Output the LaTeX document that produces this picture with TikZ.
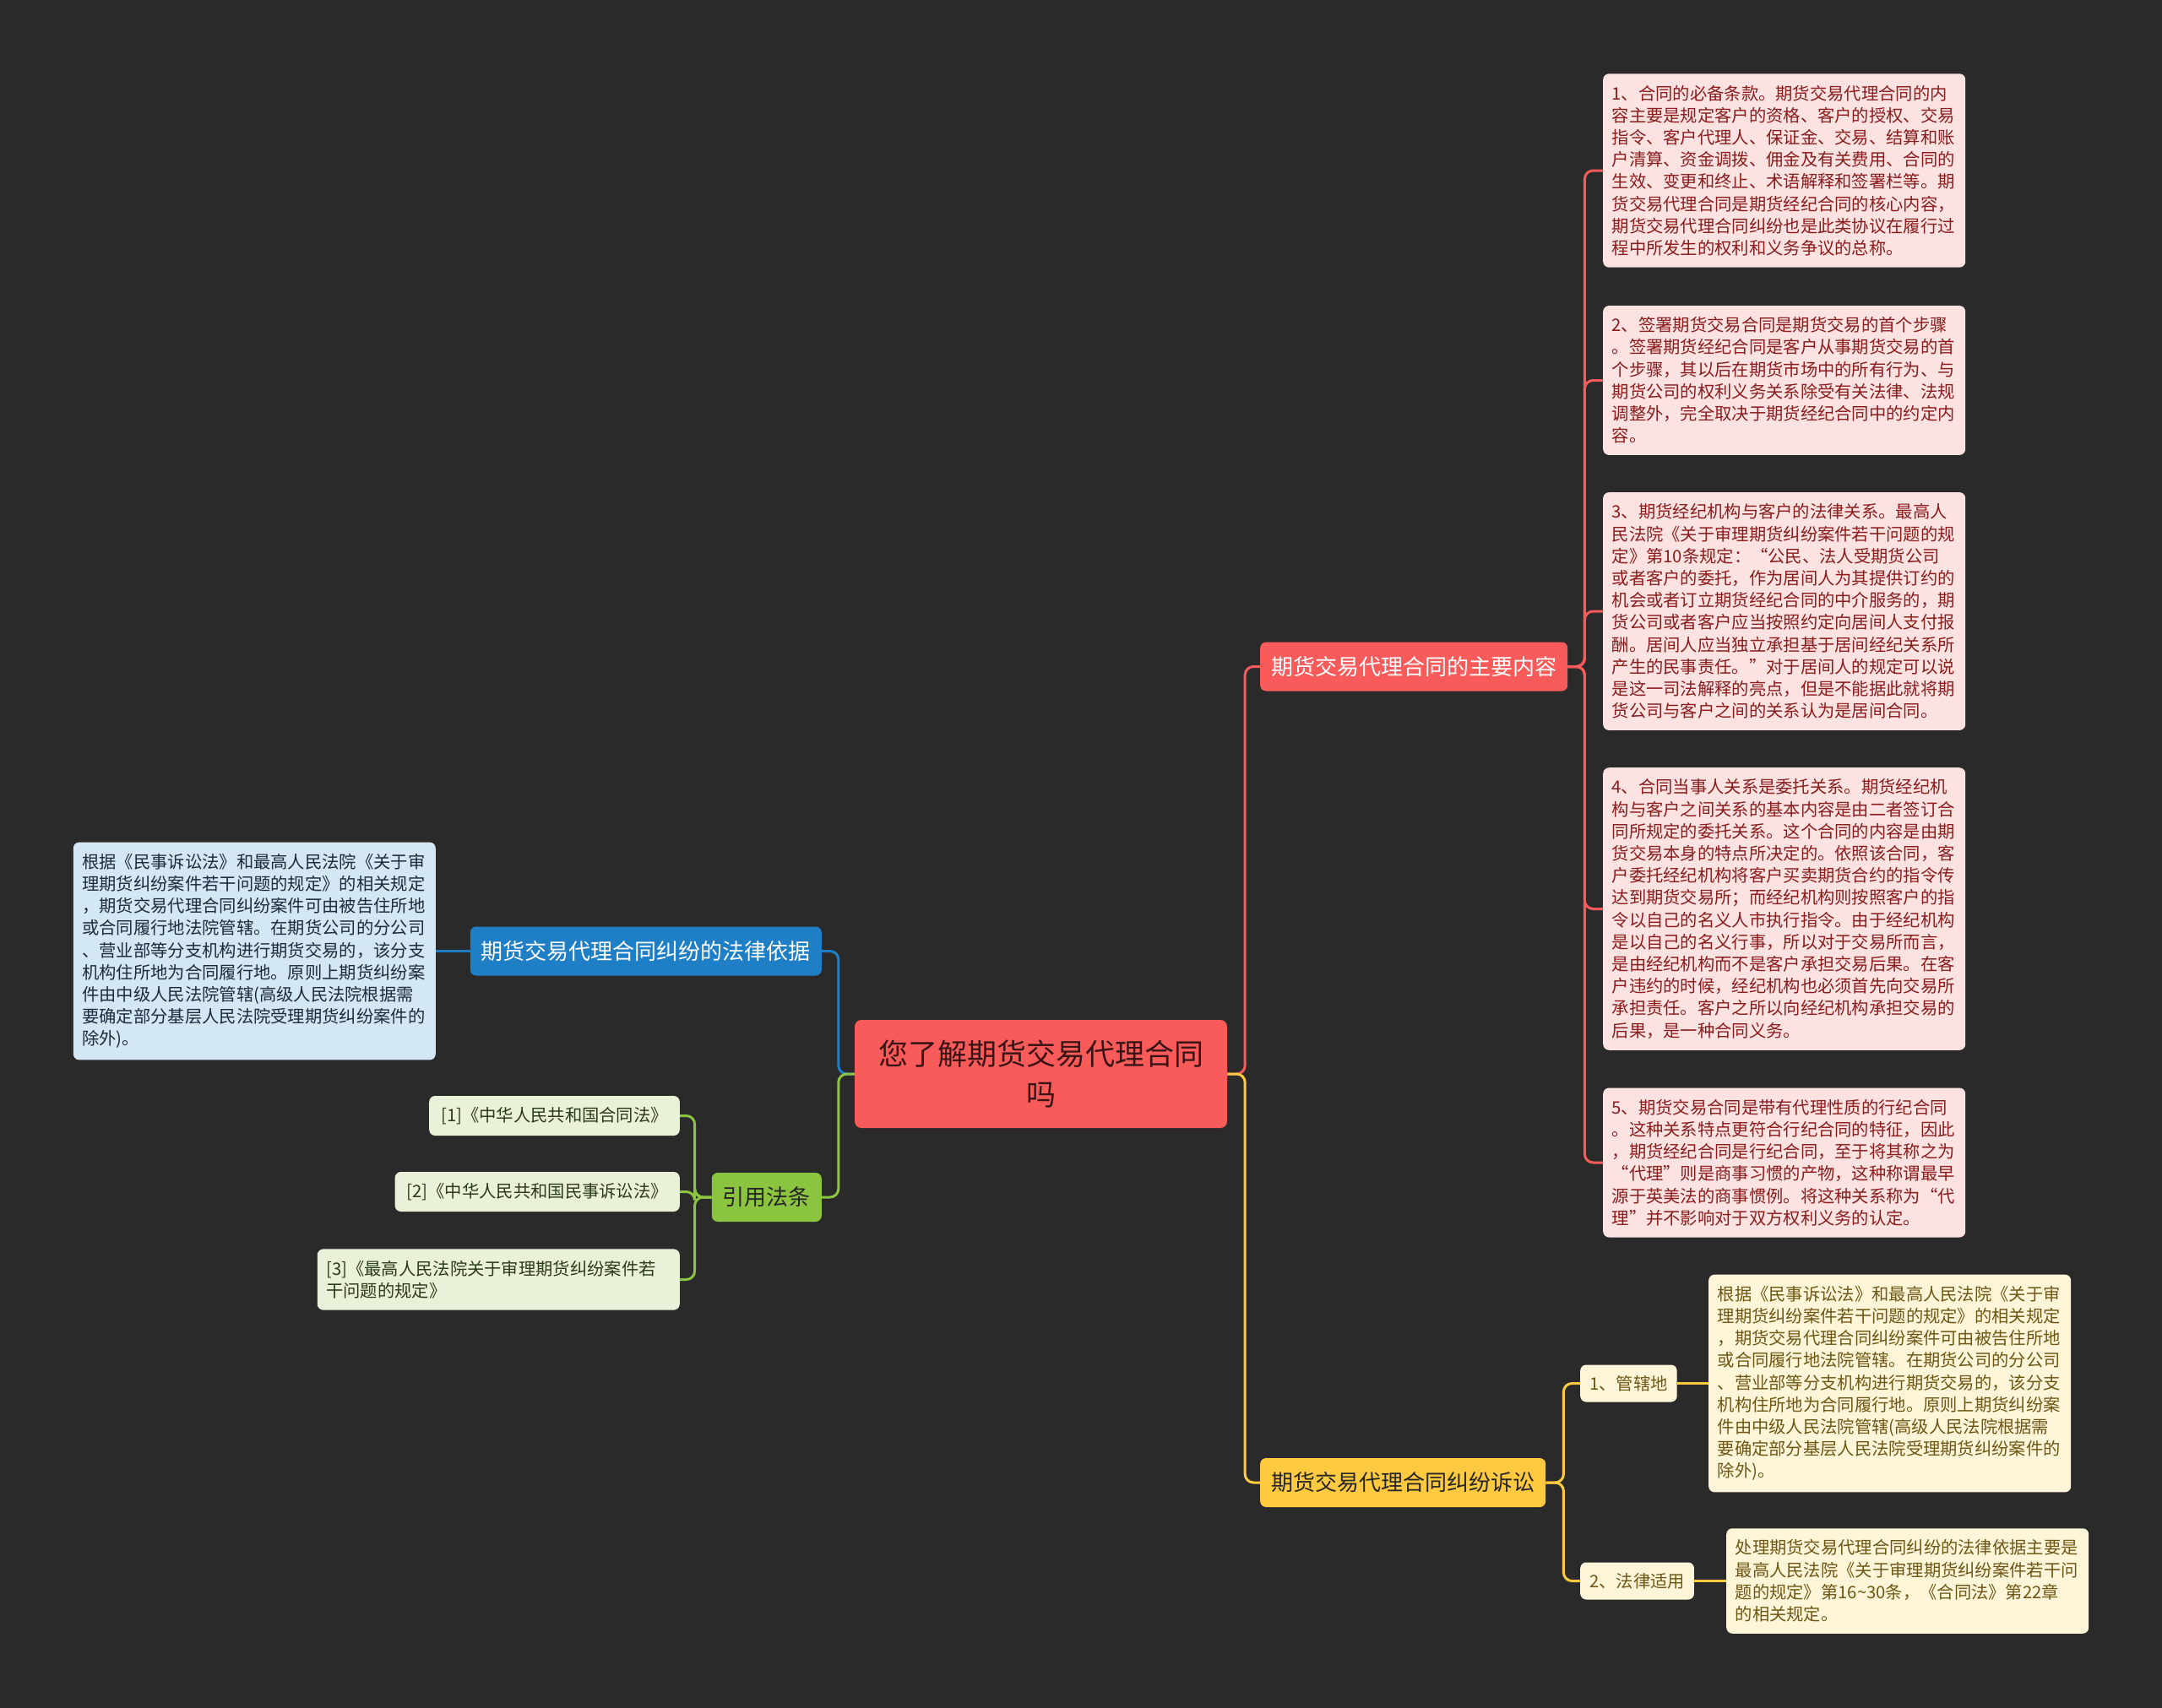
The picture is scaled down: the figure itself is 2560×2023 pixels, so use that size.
\documentclass[tikz,border=0pt]{standalone}
\usepackage{fontspec}
\newfontfamily\cjk{Noto Sans CJK SC}
\definecolor{bgdark}{HTML}{2A2A2A}
\definecolor{mapred}{HTML}{F95A5A}
\definecolor{redleaf}{HTML}{FDE2E2}
\definecolor{redink}{HTML}{8A1C1C}
\definecolor{mapyellow}{HTML}{FFC940}
\definecolor{yellowleaf}{HTML}{FFF5D8}
\definecolor{yellowink}{HTML}{6E5714}
\definecolor{mapblue}{HTML}{1E7FC6}
\definecolor{blueleaf}{HTML}{D4E7F5}
\definecolor{blueink}{HTML}{1C2B3A}
\definecolor{mapgreen}{HTML}{8BC43F}
\definecolor{greenleaf}{HTML}{E9F2D8}
\definecolor{greenink}{HTML}{2B3A17}
\definecolor{rootink}{HTML}{3A1414}

\begin{document}
\begin{tikzpicture}[x=1pt,y=-1pt,
    rootbox/.style={rounded corners=8pt,fill=mapred,text=rootink,align=center,
      text width=400pt,minimum width=441pt,minimum height=128pt,inner sep=0pt,
      font={\cjk\fontsize{35}{48}\selectfont}},
    topicbox/.style={rounded corners=7pt,inner xsep=13pt,inner ysep=0pt,minimum height=58pt,
      font={\cjk\fontsize{26}{30}\selectfont}},
    leafbox/.style={rounded corners=7pt,text width=408pt,inner xsep=10.5pt,inner ysep=13.5pt,
      align=left,font={\cjk\fontsize{20.3}{26.2}\selectfont}},
    tagbox/.style={rounded corners=7pt,inner xsep=11pt,inner ysep=0pt,minimum height=44pt,
      font={\cjk\fontsize{20.3}{24}\selectfont}},
    link/.style={line width=3pt,rounded corners=10pt}]
  \fill[bgdark] (0,0) rectangle (2560,2023);
  \useasboundingbox (0,0) rectangle (2560,2023);

  \node[rootbox] (root) at (1232.5,1272) {您了解期货交易代理合同\\吗};

  \node[topicbox,fill=mapred,text=white,anchor=west] (content) at (1492,789.5)
    {期货交易代理合同的主要内容};
  \node[topicbox,fill=mapyellow,text=black!85,anchor=west] (lawsuit) at (1492,1756)
    {期货交易代理合同纠纷诉讼};
  \node[topicbox,fill=mapblue,text=white,anchor=east] (basis) at (973,1126.5)
    {期货交易代理合同纠纷的法律依据};
  \node[topicbox,fill=mapgreen,text=black!85,anchor=east] (cited) at (973,1418)
    {引用法条};

  \node[leafbox,fill=redleaf,text=redink,anchor=west] (item1) at (1898,202)
    {1、合同的必备条款。期货交易代理合同的内\\
     容主要是规定客户的资格、客户的授权、交易\\
     指令、客户代理人、保证金、交易、结算和账\\
     户清算、资金调拨、佣金及有关费用、合同的\\
     生效、变更和终止、术语解释和签署栏等。期\\
     货交易代理合同是期货经纪合同的核心内容，\\
     期货交易代理合同纠纷也是此类协议在履行过\\
     程中所发生的权利和义务争议的总称。};
  \node[leafbox,fill=redleaf,text=redink,anchor=west] (item2) at (1898,450.5)
    {2、签署期货交易合同是期货交易的首个步骤\\
     。签署期货经纪合同是客户从事期货交易的首\\
     个步骤，其以后在期货市场中的所有行为、与\\
     期货公司的权利义务关系除受有关法律、法规\\
     调整外，完全取决于期货经纪合同中的约定内\\
     容。};
  \node[leafbox,fill=redleaf,text=redink,anchor=west] (item3) at (1898,724)
    {3、期货经纪机构与客户的法律关系。最高人\\
     民法院《关于审理期货纠纷案件若干问题的规\\
     定》第10条规定：“公民、法人受期货公司\\
     或者客户的委托，作为居间人为其提供订约的\\
     机会或者订立期货经纪合同的中介服务的，期\\
     货公司或者客户应当按照约定向居间人支付报\\
     酬。居间人应当独立承担基于居间经纪关系所\\
     产生的民事责任。”对于居间人的规定可以说\\
     是这一司法解释的亮点，但是不能据此就将期\\
     货公司与客户之间的关系认为是居间合同。};
  \node[leafbox,fill=redleaf,text=redink,anchor=west] (item4) at (1898,1076.5)
    {4、合同当事人关系是委托关系。期货经纪机\\
     构与客户之间关系的基本内容是由二者签订合\\
     同所规定的委托关系。这个合同的内容是由期\\
     货交易本身的特点所决定的。依照该合同，客\\
     户委托经纪机构将客户买卖期货合约的指令传\\
     达到期货交易所；而经纪机构则按照客户的指\\
     令以自己的名义人市执行指令。由于经纪机构\\
     是以自己的名义行事，所以对于交易所而言，\\
     是由经纪机构而不是客户承担交易后果。在客\\
     户违约的时候，经纪机构也必须首先向交易所\\
     承担责任。客户之所以向经纪机构承担交易的\\
     后果，是一种合同义务。};
  \node[leafbox,fill=redleaf,text=redink,anchor=west] (item5) at (1898,1377)
    {5、期货交易合同是带有代理性质的行纪合同\\
     。这种关系特点更符合行纪合同的特征，因此\\
     ，期货经纪合同是行纪合同，至于将其称之为\\
     “代理”则是商事习惯的产物，这种称谓最早\\
     源于英美法的商事惯例。将这种关系称为“代\\
     理”并不影响对于双方权利义务的认定。};

  \node[tagbox,fill=yellowleaf,text=yellowink,anchor=west] (venue) at (1871,1638.5) {1、管辖地};
  \node[tagbox,fill=yellowleaf,text=yellowink,anchor=west] (applylaw) at (1871,1872.5) {2、法律适用};
  \node[leafbox,fill=yellowleaf,text=yellowink,anchor=west] (venuetext) at (2023,1638.5)
    {根据《民事诉讼法》和最高人民法院《关于审\\
     理期货纠纷案件若干问题的规定》的相关规定\\
     ，期货交易代理合同纠纷案件可由被告住所地\\
     或合同履行地法院管辖。在期货公司的分公司\\
     、营业部等分支机构进行期货交易的，该分支\\
     机构住所地为合同履行地。原则上期货纠纷案\\
     件由中级人民法院管辖(高级人民法院根据需\\
     要确定部分基层人民法院受理期货纠纷案件的\\
     除外)。};
  \node[leafbox,fill=yellowleaf,text=yellowink,anchor=west] (applytext) at (2044,1872.5)
    {处理期货交易代理合同纠纷的法律依据主要是\\
     最高人民法院《关于审理期货纠纷案件若干问\\
     题的规定》第16\textasciitilde30条，《合同法》第22章\\
     的相关规定。};

  \node[leafbox,fill=blueleaf,text=blueink,anchor=east] (basistext) at (516,1126.5)
    {根据《民事诉讼法》和最高人民法院《关于审\\
     理期货纠纷案件若干问题的规定》的相关规定\\
     ，期货交易代理合同纠纷案件可由被告住所地\\
     或合同履行地法院管辖。在期货公司的分公司\\
     、营业部等分支机构进行期货交易的，该分支\\
     机构住所地为合同履行地。原则上期货纠纷案\\
     件由中级人民法院管辖(高级人民法院根据需\\
     要确定部分基层人民法院受理期货纠纷案件的\\
     除外)。};

  \node[tagbox,fill=greenleaf,text=greenink,inner xsep=14pt,minimum height=47pt,anchor=east] (law1) at (805,1321.5)
    {[1]《中华人民共和国合同法》};
  \node[tagbox,fill=greenleaf,text=greenink,inner xsep=14pt,minimum height=47pt,anchor=east] (law2) at (805,1411.5)
    {[2]《中华人民共和国民事诉讼法》};
  \node[leafbox,fill=greenleaf,text=greenink,anchor=east] (law3) at (805,1515.5)
    {[3]《最高人民法院关于审理期货纠纷案件若\\
     干问题的规定》};

  \draw[link,mapred] (root.east) -- ++(21,0) |- (content.west);
  \draw[link,mapyellow] (root.east) -- ++(21,0) |- (lawsuit.west);
  \draw[link,mapblue] (root.west) -- ++(-19,0) |- (basis.east);
  \draw[link,mapgreen] (root.west) -- ++(-19,0) |- (cited.east);

  \draw[link,mapred] (content.east) -- ++(20,0) |- (item1.west);
  \draw[link,mapred] (content.east) -- ++(20,0) |- (item2.west);
  \draw[link,mapred] (content.east) -- ++(20,0) |- (item3.west);
  \draw[link,mapred] (content.east) -- ++(20,0) |- (item4.west);
  \draw[link,mapred] (content.east) -- ++(20,0) |- (item5.west);

  \draw[link,mapyellow] (lawsuit.east) -- ++(21,0) |- (venue.west);
  \draw[link,mapyellow] (lawsuit.east) -- ++(21,0) |- (applylaw.west);
  \draw[link,mapyellow] (venue.east) -- (venuetext.west);
  \draw[link,mapyellow] (applylaw.east) -- (applytext.west);

  \draw[link,mapblue] (basis.west) -- (basistext.east);

  \draw[link,mapgreen] (cited.west) -- ++(-20,0) |- (law1.east);
  \draw[link,mapgreen] (cited.west) -- ++(-20,0) |- (law2.east);
  \draw[link,mapgreen] (cited.west) -- ++(-20,0) |- (law3.east);
\end{tikzpicture}
\end{document}
